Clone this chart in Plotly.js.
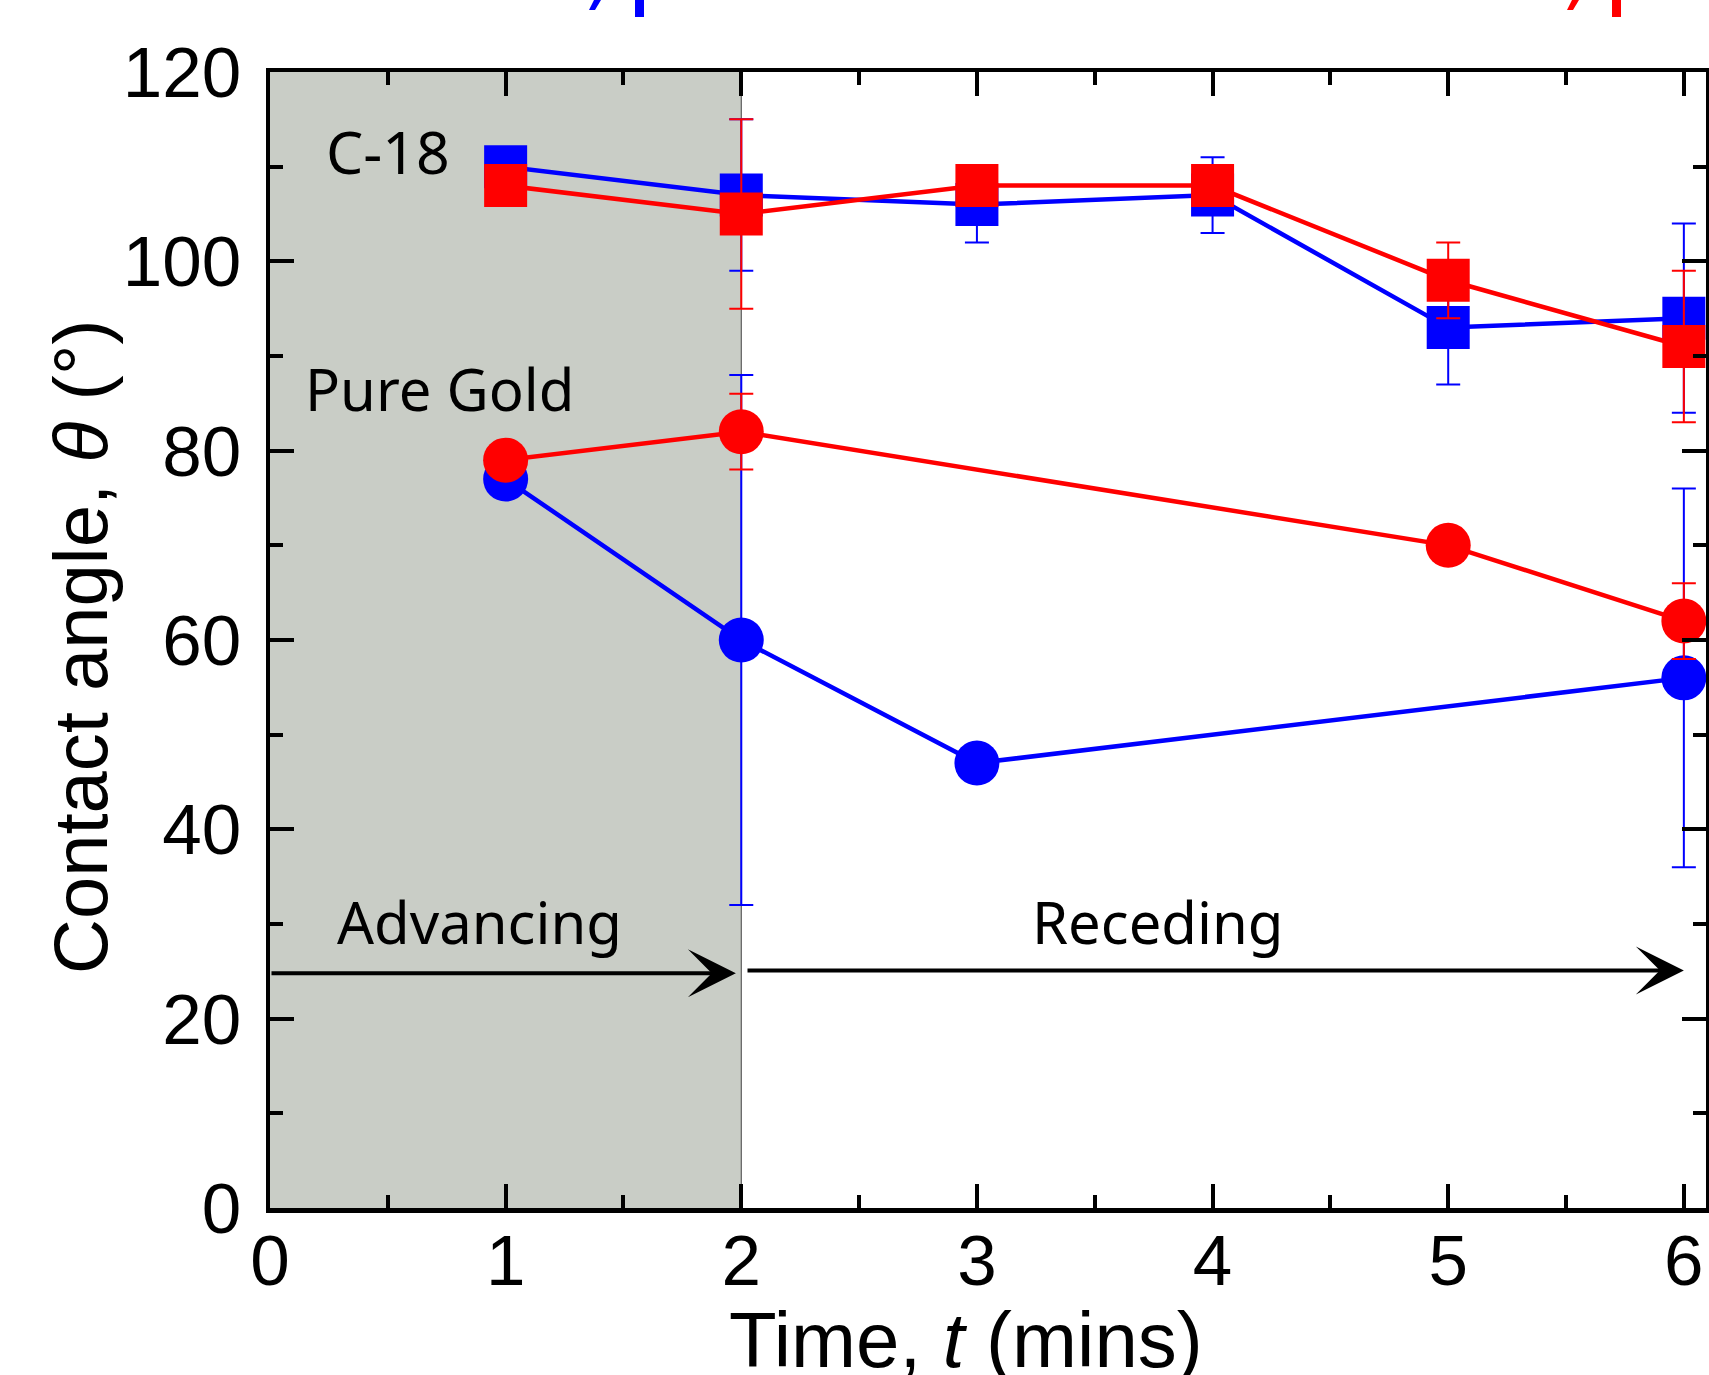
<!DOCTYPE html>
<html>
<head>
<meta charset="utf-8">
<script src="https://cdn.plot.ly/plotly-3.0.1.min.js"></script>
<style>html,body{margin:0;padding:0;background:#fff;}#chart{width:1709px;height:1375px;}</style>
</head>
<body>
<div id="chart"></div>
<script>
// ---- data ----
const time = [1, 2, 3, 4, 5, 6];
const c18Blue = [110, 107, 106, 107, 93, 94];
const c18BlueErr = [0, 8, 4, 4, 6, 10];
const c18Red = [108, 105, 108, 108, 98, 91];
const c18RedErr = [0, 10, 0, 0, 4, 8];
const goldBlueTime = [1, 2, 3, 6];
const goldBlue = [77, 60, 47, 56];
const goldBlueErr = [0, 28, 0, 20];
const goldRedTime = [1, 2, 5, 6];
const goldRed = [79, 82, 70, 62];
const goldRedErr = [0, 4, 0, 4];
const xTicks = [0, 1, 2, 3, 4, 5, 6];
const yTicks = [0, 20, 40, 60, 80, 100, 120];

const BLUE = '#0000ff', RED = '#ff0000';
const numFont = 'Liberation Sans, Arial, sans-serif';
const txtFont = 'Noto Sans, Open Sans, sans-serif';

function series(xs, ys, errs, color, symbol, size) {
  return {
    type: 'scatter', mode: 'lines+markers', x: xs, y: ys,
    line: {color: color, width: 4.5},
    marker: {color: color, symbol: symbol, size: size},
    error_y: {type: 'data', array: errs, visible: true, color: color, thickness: 2, width: 12},
    cliponaxis: false, showlegend: false, hoverinfo: 'x+y'
  };
}

const data = [
  series(time, c18Blue, c18BlueErr, BLUE, 'square', 43),
  series(goldBlueTime, goldBlue, goldBlueErr, BLUE, 'circle', 45),
  series(time, c18Red, c18RedErr, RED, 'square', 43),
  series(goldRedTime, goldRed, goldRedErr, RED, 'circle', 45)
];

function P(px) { return (px - 270) / 1436; }
function Q(py) { return (1208 - py) / 1136; }

const axisCommon = {
  showline: true, linecolor: '#000', linewidth: 4.5, mirror: 'ticks',
  ticks: 'inside', ticklen: 24, tickwidth: 4, tickcolor: '#000',
  showgrid: false, zeroline: false,
  tickfont: {family: numFont, size: 71, color: '#000'}
};

const layout = {
  width: 1709, height: 1375,
  margin: {l: 270, r: 3, t: 72, b: 167},
  paper_bgcolor: '#fff', plot_bgcolor: '#fff',
  showlegend: false,
  xaxis: Object.assign({}, axisCommon, {
    range: [0, 6.094], tickmode: 'array', tickvals: xTicks, ticktext: xTicks.map(String),
    ticklabelstandoff: -13,
    minor: {dtick: 0.5, ticks: 'inside', ticklen: 13, tickwidth: 4, tickcolor: '#000', showgrid: false}
  }),
  yaxis: Object.assign({}, axisCommon, {
    range: [0, 120], tickmode: 'array', tickvals: yTicks, ticktext: yTicks.map(String),
    ticklabelstandoff: 10,
    minor: {dtick: 10, ticks: 'inside', ticklen: 13, tickwidth: 4, tickcolor: '#000', showgrid: false}
  }),
  shapes: [
    {type: 'rect', xref: 'x', yref: 'y', x0: 0, x1: 2, y0: 0, y1: 120,
     fillcolor: '#c9cdc6', line: {width: 0}, layer: 'below'},
    {type: 'line', xref: 'x', yref: 'y', x0: 2, x1: 2, y0: 0, y1: 120,
     line: {color: '#444', width: 1}, layer: 'below'},
    // cropped fragments at the very top of the figure
    {type: 'path', xref: 'paper', yref: 'paper',
     path: `M ${P(594)} ${Q(0)} L ${P(601)} ${Q(0)} L ${P(595)} ${Q(10)} L ${P(589)} ${Q(10)} Z`,
     fillcolor: BLUE, line: {width: 0}},
    {type: 'rect', xref: 'paper', yref: 'paper', x0: P(635), x1: P(644), y0: Q(17), y1: Q(-2),
     fillcolor: BLUE, line: {width: 0}},
    {type: 'path', xref: 'paper', yref: 'paper',
     path: `M ${P(1572)} ${Q(0)} L ${P(1579)} ${Q(0)} L ${P(1573)} ${Q(10)} L ${P(1567)} ${Q(10)} Z`,
     fillcolor: RED, line: {width: 0}},
    {type: 'rect', xref: 'paper', yref: 'paper', x0: P(1612), x1: P(1621), y0: Q(17), y1: Q(-2),
     fillcolor: RED, line: {width: 0}}
  ],
  annotations: [
    {xref: 'x', yref: 'y', x: 0.5, y: 111.7, text: 'C-18', showarrow: false,
     font: {family: txtFont, size: 59, color: '#000'}},
    {xref: 'x', yref: 'y', x: 0.72, y: 86.6, text: 'Pure Gold', showarrow: false,
     font: {family: txtFont, size: 58, color: '#000'}},
    {xref: 'x', yref: 'y', x: 0.89, y: 30.3, text: 'Advancing', showarrow: false,
     font: {family: txtFont, size: 58, color: '#000'}},
    {xref: 'x', yref: 'y', x: 3.77, y: 30.3, text: 'Receding', showarrow: false,
     font: {family: txtFont, size: 58, color: '#000'}},
    {xref: 'x', yref: 'y', axref: 'x', ayref: 'y', x: 1.977, y: 24.8, ax: 0, ay: 24.8,
     text: '', showarrow: true, arrowhead: 3, arrowsize: 2, arrowwidth: 4, arrowcolor: '#000', standoff: 0},
    {xref: 'x', yref: 'y', axref: 'x', ayref: 'y', x: 6.0, y: 25.1, ax: 2.02, ay: 25.1,
     text: '', showarrow: true, arrowhead: 3, arrowsize: 2, arrowwidth: 4, arrowcolor: '#000', standoff: 0},
    // axis titles
    {xref: 'paper', yref: 'paper', x: P(966), y: Q(1340), xanchor: 'center', yanchor: 'middle',
     text: 'Time, <i>t</i> (mins)', showarrow: false,
     font: {family: numFont, size: 78, color: '#000'}},
    {xref: 'paper', yref: 'paper', x: P(80), y: Q(647), xanchor: 'center', yanchor: 'middle',
     textangle: -90, text: 'Contact angle, <i>θ</i> (°)', showarrow: false,
     font: {family: numFont, size: 76, color: '#000'}}
  ]
};

Plotly.newPlot('chart', data, layout, {displayModeBar: false, staticPlot: true});
</script>
</body>
</html>
